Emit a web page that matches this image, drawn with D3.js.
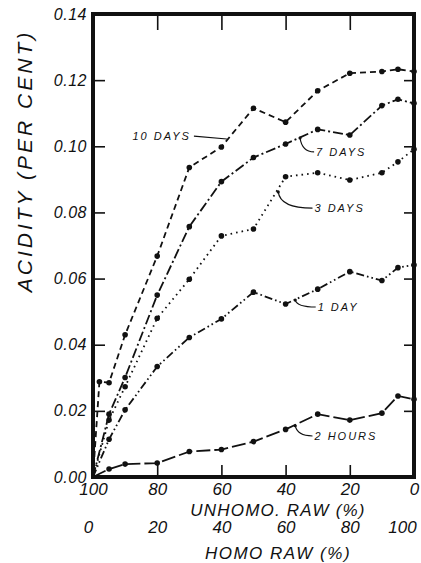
<!DOCTYPE html>
<html>
<head>
<meta charset="utf-8">
<script src="https://cdn.jsdelivr.net/npm/d3@7/dist/d3.min.js"></script>
<style>
  body { margin: 0; background: #fff; }
  svg { display: block; }
  text { font-family: "Liberation Sans", Arial, sans-serif; font-style: italic; fill: #111; }
</style>
</head>
<body>
<div id="chart"></div>
<script>
let width = 421
let height = 563

let margin = {
  'top' : 14,
  'right' : 7,
  'bottom' : 86,
  'left' : 93
}

// unhomogenized raw milk share (%), homogenized = 100 - unhomo
let unhomo = [100, 98, 95, 90, 80, 70, 60, 50, 40, 30, 20, 10, 5, 0]

let tenDays   = [0, 0.0288, 0.0285, 0.043, 0.0668, 0.0936, 0.0998, 0.1115, 0.1073, 0.1168, 0.1221, 0.1226, 0.1233, 0.1226]
let sevenDays = [0, null, 0.019, 0.0301, 0.055, 0.0757, 0.0893, 0.0966, 0.1007, 0.1051, 0.1034, 0.1123, 0.1142, 0.113]
let threeDays = [0, null, 0.0172, 0.0273, 0.048, 0.0598, 0.0729, 0.075, 0.0908, 0.092, 0.0898, 0.092, 0.0953, 0.0991]
let oneDay    = [0, null, 0.0114, 0.0203, 0.0334, 0.0422, 0.0478, 0.0559, 0.0523, 0.0568, 0.0621, 0.0594, 0.0633, 0.0641]
let twoHours  = [0, null, 0.0024, 0.0039, 0.0042, 0.0077, 0.0083, 0.0107, 0.0144, 0.019, 0.0172, 0.0193, 0.0245, 0.0235]

let yTicks = [0, 0.02, 0.04, 0.06, 0.08, 0.10, 0.12, 0.14]
let unhomoTicks = [100, 80, 60, 40, 20, 0]
let homoTicks = [0, 20, 40, 60, 80, 100]

let series = [
  { name: '10 DAYS', values: tenDays,   dash: '6,4' },
  { name: '7 DAYS',  values: sevenDays, dash: '10,3,2,3' },
  { name: '3 DAYS',  values: threeDays, dash: '1.6,4' },
  { name: '1 DAY',   values: oneDay,    dash: '8,3,1.6,3,1.6,3' },
  { name: '2 HOURS', values: twoHours,  dash: '14,4' }
]

// label leaders: start point on the curve and label position, both in data units
let notes = [
  { text: '10 DAYS', from: [58.3, 0.1022], at: [69.5, 0.1031], anchor: 'end' },
  { text: '7 DAYS',  from: [35.5, 0.1025], at: [30.5, 0.0983], anchor: 'start' },
  { text: '3 DAYS',  from: [42.3, 0.0862], at: [31, 0.0813],  anchor: 'start' },
  { text: '1 DAY',   from: [37, 0.0535],   at: [30, 0.0514],   anchor: 'start' },
  { text: '2 HOURS', from: [37, 0.0155],   at: [31, 0.0124],   anchor: 'start' }
]

let w = width - margin.left - margin.right
let h = height - margin.top - margin.bottom

let xScale = d3.scaleLinear()
  .domain([100, 0])
  .range([0, w])

let homoScale = d3.scaleLinear()
  .domain([0, 100])
  .range([0, w])

let yScale = d3.scaleLinear()
  .domain([0, 0.14])
  .range([h, 0])

let svg = d3.select('#chart').append('svg')
  .attr('width', width)
  .attr('height', height)

let inner = svg.append('g')
  .attr('transform', 'translate(' + margin.left + ',' + margin.top + ')')

// axes, ticks pointing inward
let left = inner.append('g').call(
  d3.axisLeft(yScale)
    .tickValues(yTicks)
    .tickFormat(d3.format('.2f'))
    .tickSizeInner(-12)
    .tickSizeOuter(0)
    .tickPadding(6)
)

let bottom = inner.append('g').attr('transform', 'translate(0,' + h + ')').call(
  d3.axisBottom(xScale)
    .tickValues(unhomoTicks)
    .tickSizeInner(-12)
    .tickSizeOuter(0)
    .tickPadding(6)
)

let homo = inner.append('g').attr('transform', 'translate(0,' + (h + 36) + ')').call(
  d3.axisBottom(homoScale)
    .tickValues(homoTicks)
    .tickSize(0)
    .tickPadding(8)
)
homo.select('.domain').remove()

inner.append('g').call(
  d3.axisTop(xScale)
    .tickValues([80, 60, 40, 20])
    .tickFormat('')
    .tickSizeInner(-16)
    .tickSizeOuter(0)
)

inner.append('g').attr('transform', 'translate(' + w + ',0)').call(
  d3.axisRight(yScale)
    .tickValues([0.02, 0.04, 0.06, 0.08, 0.10, 0.12])
    .tickFormat('')
    .tickSizeInner(-10)
    .tickSizeOuter(0)
)

inner.selectAll('.tick line').attr('stroke', '#111').attr('stroke-width', 1.6)
inner.selectAll('.domain').attr('stroke', 'none')

left.selectAll('text')
  .style('font-size', '16px')
  .style('letter-spacing', '0.5px')
  .attr('fill', '#111')

bottom.selectAll('text').style('font-size', '17px').attr('fill', '#111')
homo.selectAll('text').style('font-size', '17px').attr('fill', '#111')

// keep the outer homo labels inside the page
homo.selectAll('.tick text')
  .attr('dx', (d) => d == 0 ? -5 : (d == 100 ? -12 : 0))

// heavy frame
inner.append('rect')
  .attr('width', w)
  .attr('height', h)
  .attr('fill', 'none')
  .attr('stroke', '#111')
  .attr('stroke-width', 4)

// curves
let line = d3.line()
  .x((d) => xScale(d.x))
  .y((d) => yScale(d.y))

series.forEach((s) => {
  let pts = unhomo.map((x, i) => ({ x: x, y: s.values[i] }))
    .filter((d) => d.y != null)

  inner.append('path')
    .datum(pts)
    .attr('d', line)
    .attr('fill', 'none')
    .attr('stroke', '#111')
    .attr('stroke-width', 1.8)
    .attr('stroke-dasharray', s.dash)

  inner.append('g').selectAll('circle')
    .data(pts.filter((d) => d.x != 100))
    .enter().append('circle')
    .attr('cx', (d) => xScale(d.x))
    .attr('cy', (d) => yScale(d.y))
    .attr('r', 2.8)
    .attr('fill', '#111')
})

// labels with leaders
notes.forEach((n) => {
  let x0 = xScale(n.from[0]), y0 = yScale(n.from[1])
  let x1 = xScale(n.at[0]), y1 = yScale(n.at[1])
  let path
  if (n.anchor == 'end') {
    path = 'M' + (x1 + 3) + ',' + y1 + ' L' + x0 + ',' + y0
  } else {
    path = 'M' + x0 + ',' + y0 + ' Q' + (x0 + 2) + ',' + y1 + ' ' + (x1 - 2) + ',' + y1
    inner.append('circle').attr('cx', x0).attr('cy', y0).attr('r', 1.6).attr('fill', '#111')
  }
  inner.append('path')
    .attr('d', path)
    .attr('fill', 'none')
    .attr('stroke', '#111')
    .attr('stroke-width', 1.2)

  inner.append('text')
    .attr('x', x1)
    .attr('y', y1)
    .attr('dy', '0.36em')
    .attr('text-anchor', n.anchor)
    .style('font-size', '11px')
    .style('letter-spacing', '2px')
    .text(n.text)
})

// axis titles
svg.append('text')
  .attr('transform', 'translate(32,161) rotate(-90)')
  .attr('text-anchor', 'middle')
  .style('font-size', '21px')
  .style('letter-spacing', '3px')
  .text('ACIDITY (PER CENT)')

svg.append('text')
  .attr('x', 278)
  .attr('y', 516)
  .attr('text-anchor', 'middle')
  .style('font-size', '17px')
  .style('letter-spacing', '1.2px')
  .text('UNHOMO. RAW (%)')

svg.append('text')
  .attr('x', 278)
  .attr('y', 559)
  .attr('text-anchor', 'middle')
  .style('font-size', '17px')
  .style('letter-spacing', '1.5px')
  .text('HOMO RAW (%)')
</script>
</body>
</html>
